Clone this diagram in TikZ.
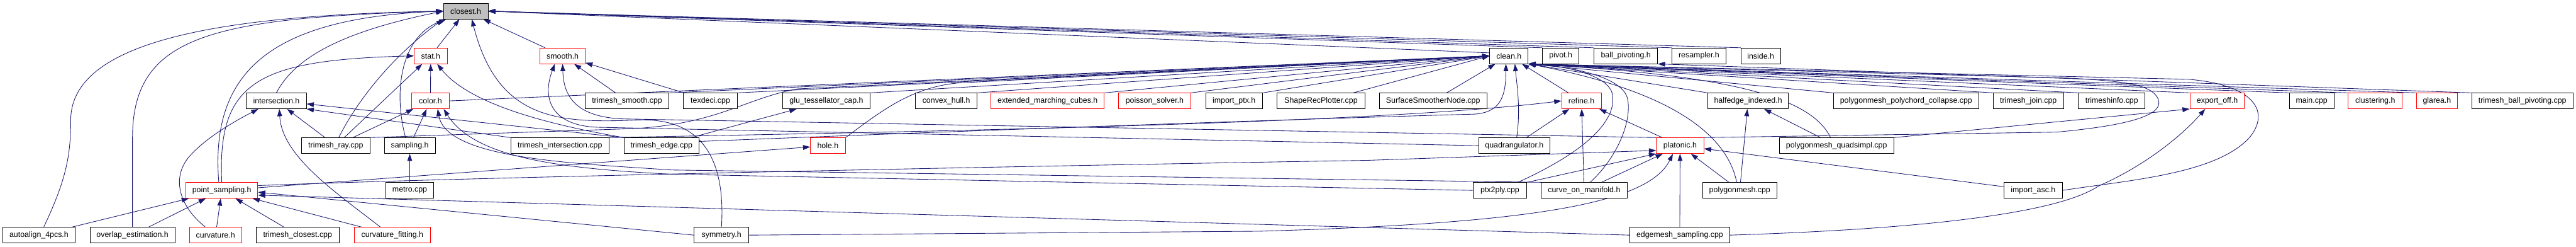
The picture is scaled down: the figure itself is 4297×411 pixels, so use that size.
\documentclass[tikz,border=0pt]{standalone}
\usepackage{fontspec}
\setmainfont{Liberation Sans}
\usetikzlibrary{arrows.meta,backgrounds}
\definecolor{edgeblue}{HTML}{191970}
\definecolor{boxgray}{HTML}{BFBFBF}
\begin{document}
\begin{tikzpicture}[x=1pt,y=-1pt,
  box/.style={draw=black, line width=0.9pt, fill=white, minimum height=26pt, inner sep=0pt, font=\fontsize{13}{15}\selectfont, text=black},
  redbox/.style={box, draw=red},
  e/.style={draw=edgeblue, line width=0.9pt, -{Triangle[length=12pt,width=8pt]}},
]
\useasboundingbox (0,0) rectangle (4297,411);
% row 0
\node[box, fill=boxgray, minimum width=74pt] (closest) at (777,18.5) {closest.h};
% row 1
\node[redbox, minimum width=55pt] (stat) at (718.5,93) {stat.h};
\node[redbox, minimum width=75pt] (smooth) at (938.5,93) {smooth.h};
\node[box, minimum width=64pt] (clean) at (2517,93) {clean.h};
\node[box, minimum width=61pt] (pivot) at (2603.5,93) {pivot.h};
\node[box, minimum width=106pt] (ballpiv) at (2712,93) {ball\_pivoting.h};
\node[box, minimum width=90pt] (resampler) at (2834,93) {resampler.h};
\node[box, minimum width=66pt] (inside) at (2937,93) {inside.h};
% row 2
\node[box, minimum width=100pt] (inter) at (461,168) {intersection.h};
\node[redbox, minimum width=62pt] (color) at (718,168) {color.h};
\node[box, minimum width=140pt] (tsmooth) at (1046,168) {trimesh\_smooth.cpp};
\node[box, minimum width=90pt] (texdeci) at (1185,168) {texdeci.cpp};
\node[box, minimum width=145pt] (glu) at (1378.5,168) {glu\_tessellator\_cap.h};
\node[box, minimum width=103pt] (convex) at (1578.5,168) {convex\_hull.h};
\node[redbox, minimum width=189pt] (emc) at (1747.5,168) {extended\_marching\_cubes.h};
\node[redbox, minimum width=120pt] (poisson) at (1926,168) {poisson\_solver.h};
\node[box, minimum width=95pt] (importptx) at (2058.5,168) {import\_ptx.h};
\node[box, minimum width=147pt] (shaperec) at (2203.5,168) {ShapeRecPlotter.cpp};
\node[box, minimum width=179pt] (surfsmooth) at (2390.5,168) {SurfaceSmootherNode.cpp};
\node[redbox, minimum width=66pt] (refine) at (2638,168) {refine.h};
\node[box, minimum width=134pt] (halfedge) at (2916,168) {halfedge\_indexed.h};
\node[box, minimum width=243pt] (polychord) at (3179.5,168) {polygonmesh\_polychord\_collapse.cpp};
\node[box, minimum width=117pt] (tjoin) at (3383.5,168) {trimesh\_join.cpp};
\node[box, minimum width=111pt] (tinfo) at (3522.5,168) {trimeshinfo.cpp};
\node[redbox, minimum width=91pt] (exportoff) at (3698.5,168) {export\_off.h};
\node[box, minimum width=74pt] (mainc) at (3856,168) {main.cpp};
\node[redbox, minimum width=90pt] (clustering) at (3962,168) {clustering.h};
\node[redbox, minimum width=68pt] (glarea) at (4065,168) {glarea.h};
\node[box, minimum width=169pt] (tbp) at (4207.5,168) {trimesh\_ball\_pivoting.cpp};
% row 3
\node[box, minimum width=114pt] (tray) at (560,242.5) {trimesh\_ray.cpp};
\node[box, minimum width=85pt] (sampling) at (683.5,242.5) {sampling.h};
\node[box, minimum width=164pt] (tint) at (934,242.5) {trimesh\_intersection.cpp};
\node[box, minimum width=125pt] (tedge) at (1103.5,242.5) {trimesh\_edge.cpp};
\node[redbox, minimum width=58pt] (hole) at (1381,242.5) {hole.h};
\node[box, minimum width=118pt] (quad) at (2526,242.5) {quadrangulator.h};
\node[redbox, minimum width=79pt] (platonic) at (2802.5,242.5) {platonic.h};
\node[box, minimum width=191pt] (quadsimpl) at (3063.5,242.5) {polygonmesh\_quadsimpl.cpp};
% row 4
\node[redbox, minimum width=120pt] (psamp) at (370,317) {point\_sampling.h};
\node[box, minimum width=79pt] (metro) at (683.5,317) {metro.cpp};
\node[box, minimum width=90pt] (ptx) at (2502,317) {ptx2ply.cpp};
\node[box, minimum width=143pt] (com) at (2642.5,317) {curve\_on\_manifold.h};
\node[box, minimum width=124pt] (pmesh) at (2902,317) {polygonmesh.cpp};
\node[box, minimum width=97pt] (importasc) at (3391.5,317) {import\_asc.h};
% row 5
\node[box, minimum width=120pt] (autoalign) at (65,391.5) {autoalign\_4pcs.h};
\node[box, minimum width=142pt] (overlap) at (221,391.5) {overlap\_estimation.h};
\node[redbox, minimum width=87pt] (curvature) at (359.5,391.5) {curvature.h};
\node[box, minimum width=139pt] (tclosest) at (496.5,391.5) {trimesh\_closest.cpp};
\node[redbox, minimum width=127pt] (cfit) at (654.5,391.5) {curvature\_fitting.h};
\node[box, minimum width=91pt] (symmetry) at (1203.5,391.5) {symmetry.h};
\node[box, minimum width=166pt] (edgemesh) at (2802,391.5) {edgemesh\_sampling.cpp};

\begin{pgfonlayer}{background}
% into closest.h
\draw[e] (stat) -- (closest);
\draw[e] (smooth) -- (closest);
\draw[e] ([yshift=5pt]clean.west) -- (closest.east);
\draw[e] (pivot.north west) -- (closest.east);
\draw[e] (ballpiv.north west) -- (closest.east);
\draw[e] (resampler.north west) -- (closest.east);
\draw[e] (inside.north west) -- (closest.east);
\draw[e] ([xshift=8pt]autoalign.north) .. controls (110,300) and (118,260) .. (118,200) .. controls (118,60) and (400,25) .. (closest.west);
\draw[e] (overlap.north) -- (221,230) .. controls (221,60) and (350,30) .. (closest.west);
\draw[e] ([xshift=-5pt]psamp.north) .. controls (350,120) and (450,30) .. (closest.west);
\draw[e] (inter.north) .. controls (490,100) and (560,55) .. (closest.west);
\draw[e] ([xshift=5pt]tray.north) .. controls (600,160) and (660,90) .. (closest.south west);
\draw[e] ([xshift=-7pt]sampling.north) .. controls (655,150) and (670,60) .. ([xshift=5pt]closest.south west);
\draw[e] (symmetry.north) .. controls (1212,240) and (1150,195) .. (1060,200) .. controls (930,205) and (830,200) .. ([xshift=10pt]closest.south);
% into smooth.h
\draw[e] (tsmooth) -- (smooth);
\draw[e] (texdeci) -- (smooth);
\draw[e] (quad.west) -- (1000,212) .. controls (915,210) and (905,160) .. ([xshift=-13pt]smooth.south);
\draw[e] (platonic.north west) -- (1040,198) .. controls (960,195) and (940,160) .. (smooth.south);
% into stat.h
\draw[e] (color) -- (stat);
\draw[e] (tray) -- (stat);
\draw[e] (tedge.north west) .. controls (900,205) and (780,170) .. (stat);
\draw[e] (psamp.north) .. controls (362,135) and (430,100) .. (stat.west);
% into color.h
\draw[e] (tray) -- (color);
\draw[e] (sampling) -- (color);
\draw[e] (com.north west) -- (1120,283) .. controls (960,272) and (745,265) .. ([xshift=12pt]color.south);
\draw[e] (ptx.west) -- (1120,290) .. controls (920,280) and (790,260) .. ([xshift=22pt]color.south);
% into intersection.h
\draw[e] (tray) -- (inter);
\draw[e] (tint.north west) -- (inter.south east);
\draw[e] (tedge.north west) -- ([yshift=-5pt]inter.east);
\draw[e] ([xshift=-17pt]curvature.north) .. controls (295,340) and (285,290) .. (321,255) .. controls (350,225) and (395,200) .. ([xshift=-30pt]inter.south);
\draw[e] ([xshift=-20pt]cfit.north) .. controls (560,320) and (470,260) .. ([xshift=5pt]inter.south);
% into sampling.h
\draw[e] (metro) -- (sampling);
% into point_sampling.h
\draw[e] (autoalign) -- (psamp);
\draw[e] (overlap) -- (psamp);
\draw[e] (curvature) -- (psamp);
\draw[e] (tclosest) -- (psamp);
\draw[e] (cfit) -- (psamp);
\draw[e] (symmetry.west) -- ([yshift=-3pt]psamp.east);
\draw[e] (edgemesh.west) -- ([yshift=-8pt]psamp.east);
% hole, glu
\draw[e] (psamp) -- (hole);
\draw[e] (tedge) -- (glu);
% into clean.h from the left
\draw[e] (color.east) -- (clean.west);
\draw[e] (tsmooth.north east) -- (clean.west);
\draw[e] (texdeci.north east) -- (clean.west);
\draw[e] (glu.north east) -- (clean.west);
\draw[e] (convex.north east) -- (clean.west);
\draw[e] (emc.north east) -- (clean.west);
\draw[e] (poisson.north east) -- (clean.west);
\draw[e] (importptx.north east) -- (clean.west);
\draw[e] ([xshift=-20pt]shaperec.north east) -- (clean.west);
\draw[e] (surfsmooth) -- (clean);
\draw[e] (hole.north east) .. controls (1470,185) and (1520,145) .. (1600,138) -- (clean.west);
\draw[e] (tray.north east) -- (1060,214) .. controls (1200,205) and (1240,165) .. (1330,148) -- (clean.west);
\draw[e] ([yshift=7pt]tedge.east) .. controls (1500,222) and (2100,200) .. (2460,190) .. controls (2500,187) and (2512,165) .. ([xshift=-5pt]clean.south);
\draw[e] ([xshift=4pt]quad.north) .. controls (2537,180) and (2530,140) .. ([xshift=10pt]clean.south);
\draw[e] (refine) -- (clean);
% into clean.h from the right
\draw[e] ([xshift=30pt]ptx.north) .. controls (2650,250) and (2695,200) .. (2690,160) .. controls (2688,128) and (2620,110) .. (clean.south east);
\draw[e] ([xshift=10pt]com.north) .. controls (2700,260) and (2722,200) .. (2715,165) .. controls (2708,130) and (2630,112) .. (clean.south east);
\draw[e] (halfedge.north west) -- (clean.south east);
\draw[e] ([xshift=-5pt]pmesh.north) .. controls (2880,220) and (2780,150) .. (clean.south east);
\draw[e] ([xshift=-10pt]quadsimpl.north) .. controls (3020,160) and (2880,125) .. (clean.south east);
\draw[e] (polychord.north west) -- (clean.south east);
\draw[e] (tjoin.north west) -- (clean.south east);
\draw[e] (tinfo.north west) -- (clean.south east);
\draw[e] (exportoff.north west) -- (clean.south east);
\draw[e] (mainc.north west) -- (clean.south east);
\draw[e] (clustering.north west) -- (clean.south east);
\draw[e] (glarea.north west) -- (clean.south east);
\draw[e] (platonic.north east) -- (3430,220) .. controls (3560,208) and (3610,190) .. (3600,165) .. controls (3590,140) and (3540,135) .. (3450,130) -- (clean.south east);
\draw[e] (importasc.east) .. controls (3550,300) and (3700,290) .. (3754,227) .. controls (3790,180) and (3750,140) .. (3650,132) -- (clean.south east);
% ball_pivoting.h
\draw[e] (tbp.north west) -- (ballpiv.south east);
% refine.h
\draw[e] (quad) -- (refine);
\draw[e] (com) -- (refine);
\draw[e] (platonic) -- (refine);
\draw[e] (tint.north east) .. controls (1600,218) and (2300,205) .. (refine.west);
% platonic.h
\draw[e] ([yshift=8pt]psamp.east) .. controls (700,298) and (1500,280) .. (2280,267) -- ([yshift=-8pt]platonic.west);
\draw[e] (ptx.north east) -- (platonic.south west);
\draw[e] (com) -- (platonic);
\draw[e] (symmetry.east) -- (2100,385) .. controls (2550,372) and (2750,340) .. ([xshift=-12pt]platonic.south);
\draw[e] (edgemesh) -- (platonic);
\draw[e] (pmesh) -- (platonic);
\draw[e] (importasc) -- (platonic);
% halfedge_indexed.h
\draw[e] (pmesh) -- (halfedge);
\draw[e] (quadsimpl) -- (halfedge);
% export_off.h
\draw[e] (quadsimpl.north east) -- (exportoff.south west);
\draw[e] (edgemesh.east) .. controls (3250,380) and (3440,350) .. (3500,310) .. controls (3580,275) and (3640,225) .. ([xshift=-20pt]exportoff.south);
\end{pgfonlayer}
\end{tikzpicture}
\end{document}
